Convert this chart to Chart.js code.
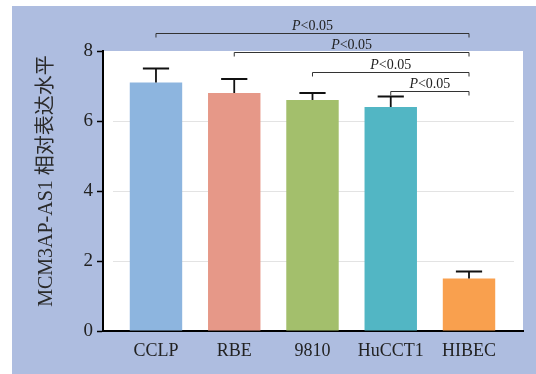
<!DOCTYPE html>
<html>
<head>
<meta charset="utf-8">
<script src="https://cdn.jsdelivr.net/npm/chart.js@4/dist/chart.umd.min.js"></script>
<style>
  html, body { margin: 0; padding: 0; background: #ffffff; }
  canvas { display: block; }
</style>
</head>
<body>
<canvas id="c" width="536" height="374"></canvas>
<script>
// ---- data ----
const categories = ['CCLP', 'RBE', '9810', 'HuCCT1', 'HIBEC'];
const means = [7.1, 6.8, 6.6, 6.4, 1.5];
const sdErrors = [0.4, 0.4, 0.2, 0.3, 0.2];
const yTicks = [0, 2, 4, 6, 8];
const sigPairs = [[0, 4], [1, 4], [2, 4], [3, 4]];
const sigLabels = ['<0.05', '<0.05', '<0.05', '<0.05'];
const yTitle = 'MCM3AP-AS1 相对表达水平';

const barColors = ['#8db5df', '#e69888', '#a3bf6c', '#52b6c4', '#f9a04e'];
const SERIF = '"Liberation Serif", "DejaVu Serif", serif';

const bgPlugin = {
  id: 'bg',
  beforeDraw(chart) {
    const { ctx, chartArea: a, width, height } = chart;
    ctx.save();
    ctx.fillStyle = '#ffffff';
    ctx.fillRect(0, 0, width, height);
    ctx.fillStyle = '#aebde0';
    ctx.fillRect(12, 6, width - 12, height - 6);
    ctx.fillStyle = '#ffffff';
    ctx.fillRect(a.left, a.top, a.right - a.left, a.bottom - a.top);
    const y = chart.scales.y;
    ctx.strokeStyle = '#e3e3e3';
    ctx.lineWidth = 1;
    yTicks.forEach(v => {
      if (v === y.min || v === y.max) return;
      const py = Math.round(y.getPixelForValue(v)) + 0.5;
      ctx.beginPath();
      ctx.moveTo(a.left + 10, py);
      ctx.lineTo(a.right - 9, py);
      ctx.stroke();
    });
    ctx.restore();
  }
};

const errPlugin = {
  id: 'err',
  afterDatasetsDraw(chart) {
    const { ctx } = chart;
    const y = chart.scales.y;
    const meta = chart.getDatasetMeta(0);
    ctx.save();
    ctx.strokeStyle = '#111';
    ctx.lineWidth = 1.8;
    meta.data.forEach((bar, i) => {
      const top = y.getPixelForValue(means[i] + sdErrors[i]);
      const half = bar.width / 4;
      ctx.beginPath();
      ctx.moveTo(bar.x, bar.y);
      ctx.lineTo(bar.x, top);
      ctx.moveTo(bar.x - half, top);
      ctx.lineTo(bar.x + half, top);
      ctx.stroke();
    });
    ctx.restore();
  }
};

const sigPlugin = {
  id: 'sig',
  afterDraw(chart) {
    const { ctx, chartArea: a } = chart;
    const x = chart.scales.x;
    ctx.save();
    ctx.strokeStyle = '#333';
    ctx.fillStyle = '#222';
    ctx.lineWidth = 1;
    sigPairs.forEach((p, k) => {
      const x1 = x.getPixelForValue(p[0]);
      const x2 = x.getPixelForValue(p[1]);
      const py = Math.round(a.top - 18 + k * 19.4) + 0.5;
      ctx.beginPath();
      ctx.moveTo(x1, py + 4);
      ctx.lineTo(x1, py);
      ctx.lineTo(x2, py);
      ctx.lineTo(x2, py + 4);
      ctx.stroke();
      const fi = 'italic 14px ' + SERIF;
      const fn = '14px ' + SERIF;
      ctx.font = fi;
      const wP = ctx.measureText('P').width;
      ctx.font = fn;
      const wR = ctx.measureText(sigLabels[k]).width;
      const cx = (x1 + x2) / 2;
      const sx = cx - (wP + wR) / 2;
      ctx.textBaseline = 'alphabetic';
      ctx.textAlign = 'left';
      ctx.font = fi;
      ctx.fillText('P', sx, py - 4);
      ctx.font = fn;
      ctx.fillText(sigLabels[k], sx + wP, py - 4);
    });
    // y-axis title
    ctx.save();
    ctx.translate(47, 181);
    ctx.rotate(-Math.PI / 2);
    ctx.textAlign = 'center';
    ctx.textBaseline = 'middle';
    ctx.font = '20px ' + SERIF + ', "Noto Sans CJK SC"';
    ctx.fillStyle = '#2a2a2a';
    ctx.fillText(yTitle, 0, 0);
    ctx.restore();
    ctx.restore();
  }
};

new Chart(document.getElementById('c'), {
  type: 'bar',
  data: {
    datasets: [{
      data: means.map((v, i) => ({ x: i, y: v })),
      backgroundColor: barColors,
      borderWidth: 0,
      categoryPercentage: 1,
      barPercentage: 0.67
    }]
  },
  options: {
    responsive: false,
    animation: false,
    devicePixelRatio: 1,
    layout: { padding: { top: 51, right: 13, left: 0, bottom: 0 } },
    plugins: { legend: { display: false }, tooltip: { enabled: false } },
    scales: {
      x: {
        type: 'linear',
        offset: false,
        min: -0.677,
        max: 4.69,
        afterBuildTicks(s) { s.ticks = categories.map((_, i) => ({ value: i })); },
        afterFit(s) { s.height = 43; },
        ticks: {
          callback: v => categories[v] ?? '',
          font: { family: SERIF, size: 18 },
          color: '#222',
          padding: 9,
          maxRotation: 0,
          autoSkip: false
        },
        grid: { display: true, drawOnChartArea: false, drawTicks: false },
        border: { color: '#000', width: 2 }
      },
      y: {
        min: 0,
        max: 8,
        afterBuildTicks(s) { s.ticks = yTicks.map(v => ({ value: v })); },
        afterFit(s) { s.width = 103; },
        ticks: {
          font: { family: SERIF, size: 19 },
          color: '#222',
          padding: 4
        },
        grid: { display: true, drawOnChartArea: false, drawTicks: true, tickLength: 6, tickColor: '#000', tickWidth: 1.5 },
        border: { color: '#000', width: 2 }
      }
    }
  },
  plugins: [bgPlugin, errPlugin, sigPlugin]
});
</script>
</body>
</html>
